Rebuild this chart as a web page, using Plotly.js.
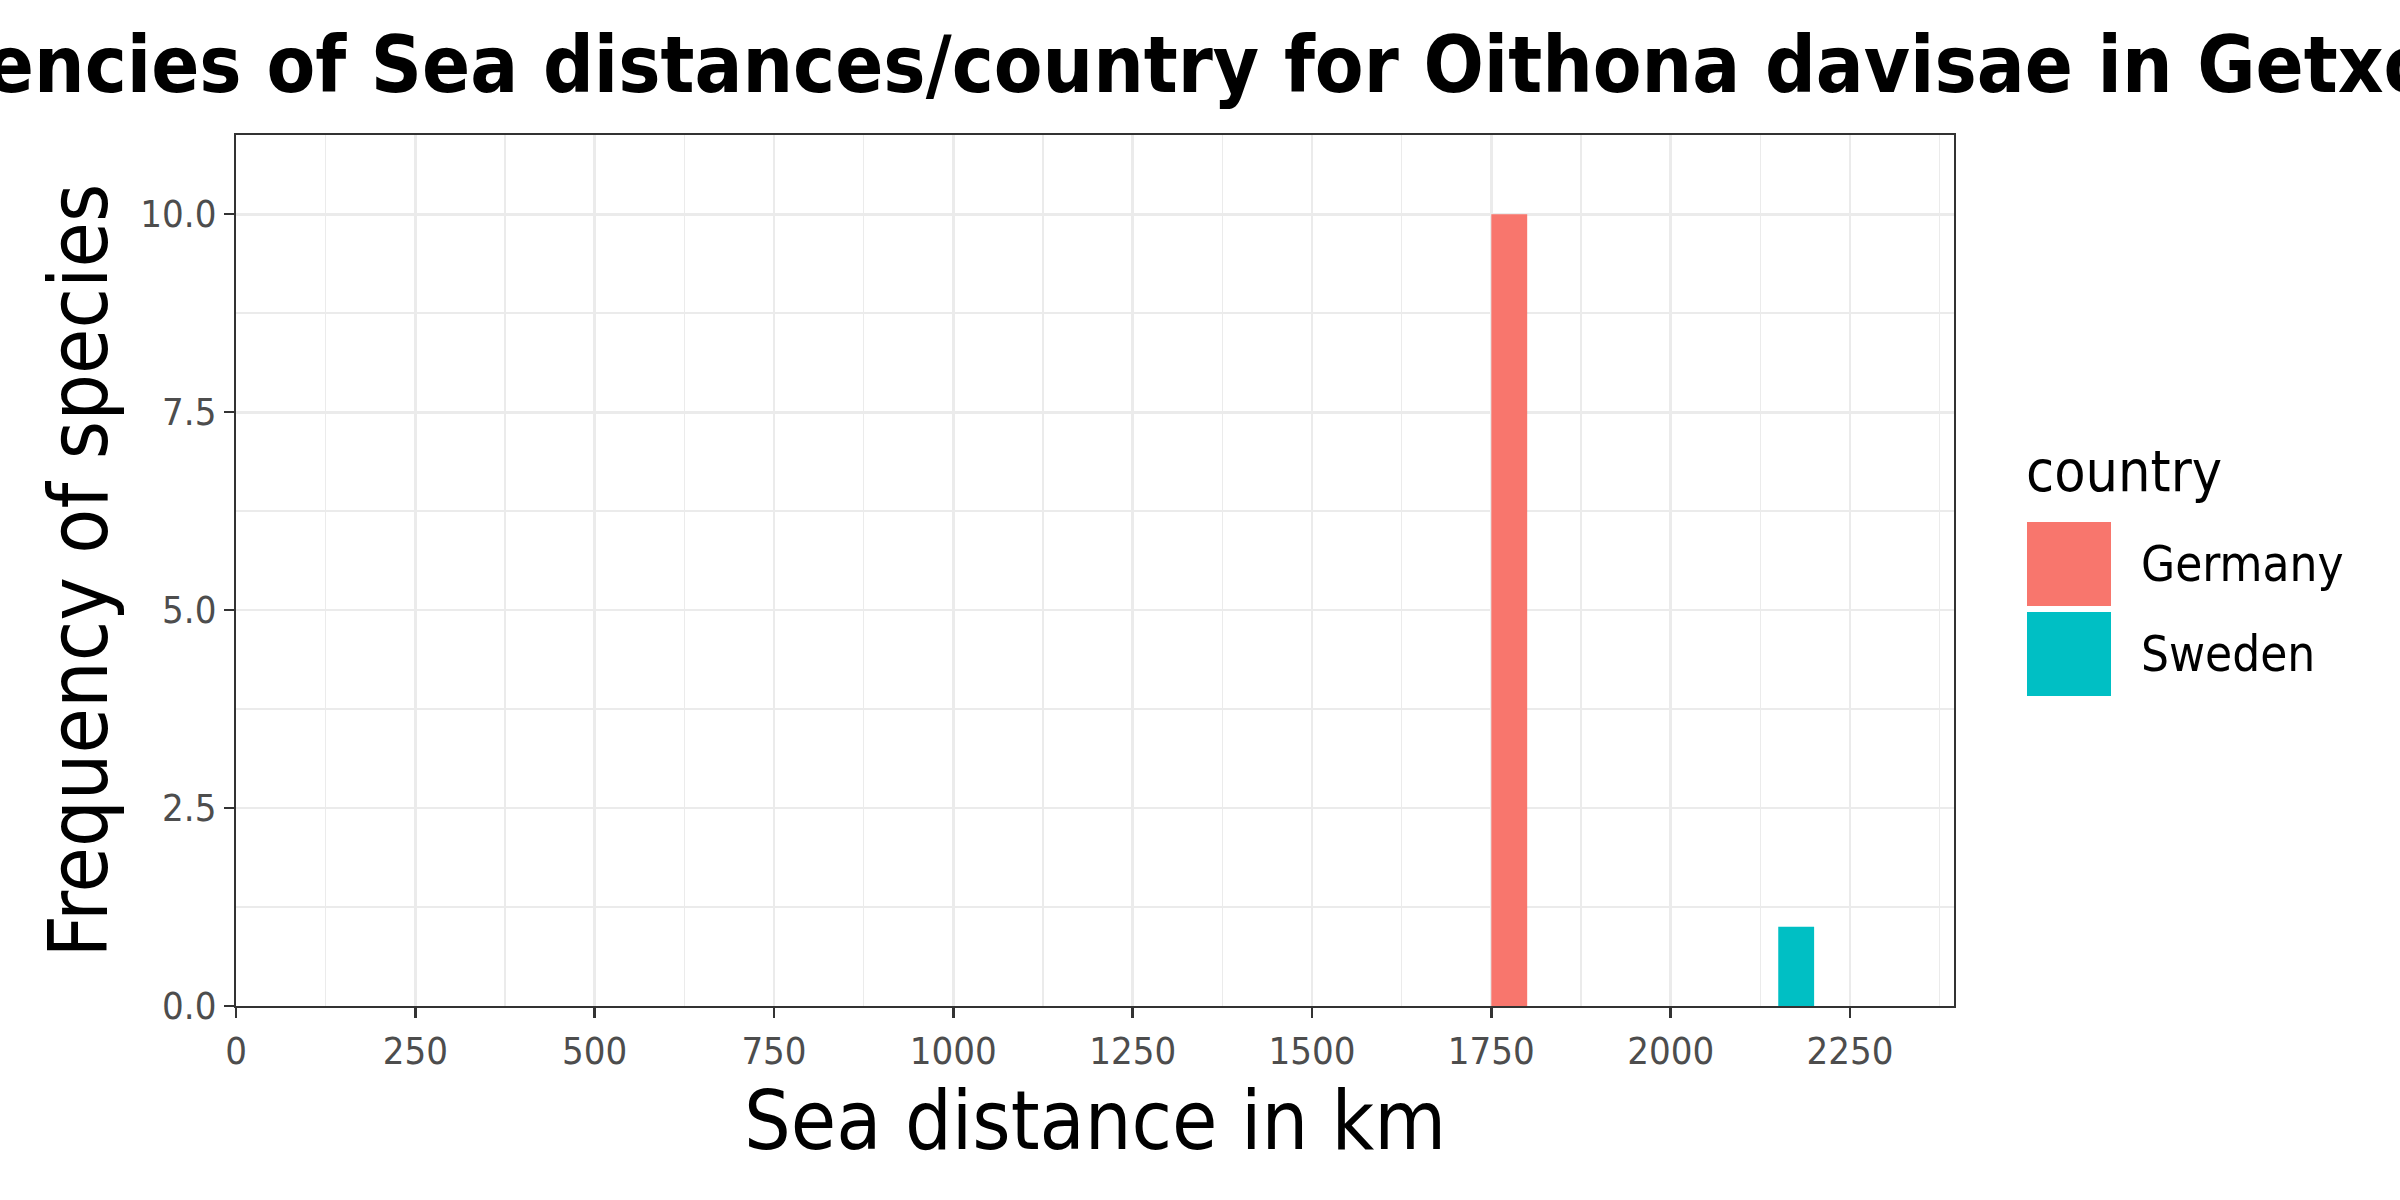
<!DOCTYPE html>
<html>
<head>
<meta charset="utf-8">
<script src="https://cdn.plot.ly/plotly-3.0.1.min.js"></script>
<style>
  html, body { margin: 0; padding: 0; background: #ffffff; }
  #chart { width: 2400px; height: 1200px; }
</style>
</head>
<body>
<div id="chart"></div>
<script>
// ---- data ----
var countries = ["Germany", "Sweden"];
var countryColors = ["#F8766D", "#00BFC4"];
var germanyBinCenters = [1775];
var germanyCounts = [10];
var swedenBinCenters = [2175];
var swedenCounts = [1];
var binWidth = 50;
var xTickValues = [0, 250, 500, 750, 1000, 1250, 1500, 1750, 2000, 2250];
var yTickValues = [0, 2.5, 5, 7.5, 10];
var chartTitle = "Frequencies of Sea distances/country for Oithona davisae in Getxo";
var xTitle = "Sea distance in km";
var yTitle = "Frequency of species";
var legendTitle = "country";

// ---- layout geometry (pixels) ----
var W = 2400, H = 1200;
var L = 236, R = 1954, T = 135, B = 1006;
var FONT = "DejaVu Sans Condensed, DejaVu Sans, sans-serif";
function px2x(p) { return (p - L) / (R - L); }
function px2y(p) { return (B - p) / (B - T); }

var traces = [
  {
    type: "bar",
    name: countries[0],
    x: germanyBinCenters,
    y: germanyCounts,
    width: germanyBinCenters.map(function () { return binWidth; }),
    marker: { color: countryColors[0], line: { width: 0 } },
    showlegend: false,
    hoverinfo: "x+y+name"
  },
  {
    type: "bar",
    name: countries[1],
    x: swedenBinCenters,
    y: swedenCounts,
    width: swedenBinCenters.map(function () { return binWidth; }),
    marker: { color: countryColors[1], line: { width: 0 } },
    showlegend: false,
    hoverinfo: "x+y+name"
  }
];

// manual ggplot-style legend (large square keys)
var keySize = 84, keyGap = 6, keyLeft = 2027, keyTop = 522, labelLeft = 2139;
var shapes = [];
var annotations = [];
annotations.push({
  xref: "paper", yref: "paper",
  x: px2x(2024), y: px2y(506),
  xanchor: "left", yanchor: "bottom",
  text: legendTitle, showarrow: false,
  font: { family: FONT, size: 57, color: "#000000" }
});
countries.forEach(function (c, i) {
  var top = keyTop + i * (keySize + keyGap);
  shapes.push({
    type: "rect", xref: "paper", yref: "paper",
    x0: px2x(keyLeft), x1: px2x(keyLeft + keySize),
    y0: px2y(top + keySize), y1: px2y(top),
    fillcolor: countryColors[i], line: { width: 0 }, layer: "above"
  });
  annotations.push({
    xref: "paper", yref: "paper",
    x: px2x(labelLeft), y: px2y(top + keySize / 2),
    xanchor: "left", yanchor: "middle",
    text: c, showarrow: false,
    font: { family: FONT, size: 49, color: "#000000" }
  });
});
// axis titles placed like ggplot's axis.title.x / axis.title.y
annotations.push({
  xref: "paper", yref: "paper",
  x: 0.5, y: px2y(1120),
  xanchor: "center", yanchor: "middle",
  text: xTitle, showarrow: false,
  font: { family: FONT, size: 82, color: "#000000" }
});
annotations.push({
  xref: "paper", yref: "paper",
  x: px2x(78), y: 0.5,
  xanchor: "center", yanchor: "middle",
  textangle: -90,
  text: yTitle, showarrow: false,
  font: { family: FONT, size: 82, color: "#000000" }
});

var layout = {
  width: W, height: H,
  margin: { l: L, r: W - R, t: T, b: H - B, pad: 0 },
  paper_bgcolor: "#ffffff",
  plot_bgcolor: "#ffffff",
  barmode: "overlay",
  showlegend: false,
  font: { family: FONT, color: "#000000" },
  title: {
    text: chartTitle,
    x: 0.5, xref: "paper", xanchor: "center",
    y: 1 - 64 / H, yref: "container", yanchor: "middle",
    font: { family: FONT, size: 79, color: "#000000", weight: "bold" }
  },
  xaxis: {
    range: [0, 2395],
    tickmode: "array",
    tickvals: xTickValues,
    ticktext: xTickValues.map(String),
    ticks: "outside", ticklen: 10, tickwidth: 2.5, tickcolor: "#333333",
    tickfont: { family: FONT, size: 38, color: "#4D4D4D" },
    showgrid: true, gridcolor: "#EBEBEB", gridwidth: 2.8,
    minor: { dtick: 125, tick0: 0, showgrid: true, gridcolor: "#EBEBEB", gridwidth: 1.4, ticks: "" },
    showline: true, linecolor: "#333333", linewidth: 2, mirror: true,
    zeroline: false
  },
  yaxis: {
    range: [0, 11],
    tickmode: "array",
    tickvals: yTickValues,
    ticktext: yTickValues.map(function (v) { return v.toFixed(1); }),
    ticks: "outside", ticklen: 10, tickwidth: 2.5, tickcolor: "#333333",
    tickfont: { family: FONT, size: 38, color: "#4D4D4D" },
    showgrid: true, gridcolor: "#EBEBEB", gridwidth: 2.8,
    minor: { dtick: 1.25, tick0: 0, showgrid: true, gridcolor: "#EBEBEB", gridwidth: 1.4, ticks: "" },
    showline: true, linecolor: "#333333", linewidth: 2, mirror: true,
    zeroline: false
  },
  shapes: shapes,
  annotations: annotations
};

Plotly.newPlot("chart", traces, layout, { staticPlot: true, displayModeBar: false });
</script>
</body>
</html>
